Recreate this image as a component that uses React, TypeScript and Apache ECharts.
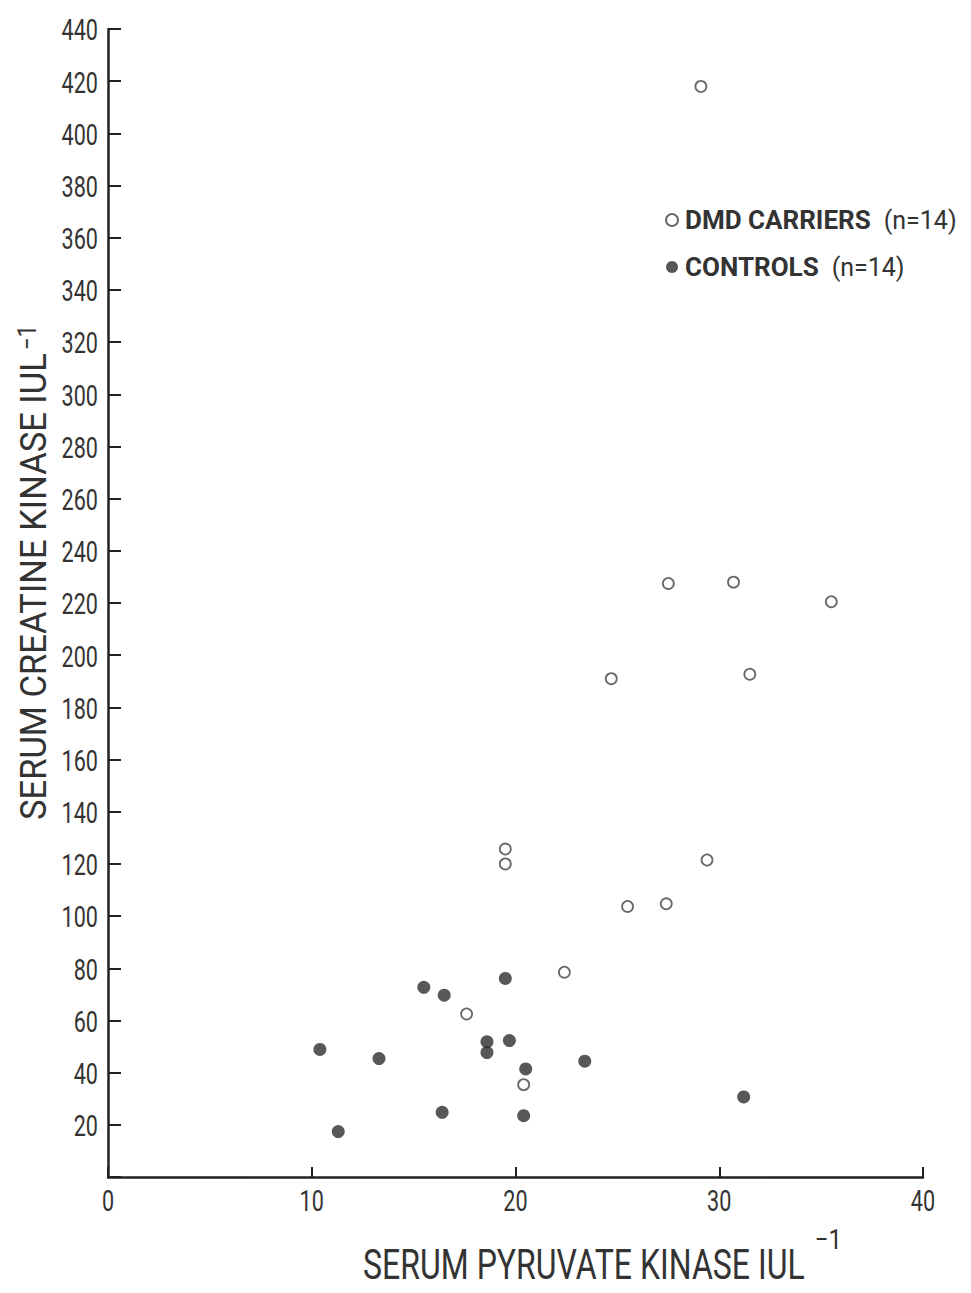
import React, { useEffect, useRef } from "react";
import * as echarts from "echarts";

const carriersX = [29.1, 27.5, 30.7, 35.5, 24.7, 31.5, 19.5, 19.5, 29.4, 25.5, 27.4, 22.4, 17.6, 20.4];
const carriersY = [418, 227.5, 228, 220.5, 191, 192.7, 125.7, 120, 121.5, 103.7, 104.7, 78.5, 62.5, 35.4];
const controlsX = [10.4, 11.3, 13.3, 15.5, 16.5, 16.4, 18.6, 18.6, 19.5, 19.7, 20.5, 20.4, 23.4, 31.2];
const controlsY = [48.9, 17.4, 45.4, 72.7, 69.7, 24.8, 51.8, 47.7, 76.1, 52.3, 41.4, 23.5, 44.4, 30.7];
const seriesNames = ["DMD CARRIERS", "CONTROLS"];
const seriesCounts = [14, 14];
const xTicks = [0, 10, 20, 30, 40];
const yTicks = [20, 40, 60, 80, 100, 120, 140, 160, 180, 200, 220, 240, 260, 280, 300, 320, 340, 360, 380, 400, 420, 440];
const xTitle = "SERUM PYRUVATE KINASE IUL";
const yTitle = "SERUM CREATINE KINASE IUL";
const unitExp = "−1";

const FONT = "Roboto, 'Liberation Sans', sans-serif";
const INK = "#333";

function measure(text: string, size: number, weight = "normal") {
  const c = document.createElement("canvas").getContext("2d");
  if (!c) return text.length * size * 0.55;
  c.font = `${weight} ${size}px Roboto`;
  return c.measureText(text).width;
}

export default function App() {
  const ref = useRef<HTMLDivElement>(null);
  useEffect(() => {
    if (!ref.current) return;
    const chart = echarts.init(ref.current, undefined, { renderer: "svg" });
    const carriers = carriersX.map((x, i) => [x, carriersY[i]]);
    const controls = controlsX.map((x, i) => [x, controlsY[i]]);

    const xTitleSize = 42;
    const xTitleScale = 442 / measure(xTitle, xTitleSize);
    const yTitleSize = 36;
    const yTitleScale = 467 / measure(yTitle, yTitleSize);

    const titleGraphics: any[] = [
      {
        id: "xtitle",
        type: "text",
        x: 363,
        y: 1264,
        scaleX: xTitleScale,
        style: { text: xTitle, fontFamily: FONT, fontSize: xTitleSize, fill: INK, align: "left", verticalAlign: "middle" },
      },
      {
        id: "xexp",
        type: "text",
        x: 815,
        y: 1239,
        scaleX: 0.85,
        style: { text: unitExp, fontFamily: FONT, fontSize: 28, fill: INK, align: "left", verticalAlign: "middle" },
      },
      {
        id: "ytitle",
        type: "text",
        x: 34,
        y: 820,
        rotation: Math.PI / 2,
        scaleX: yTitleScale,
        style: { text: yTitle, fontFamily: FONT, fontSize: yTitleSize, fill: INK, align: "left", verticalAlign: "middle" },
      },
      {
        id: "yexp",
        type: "text",
        x: 27,
        y: 350,
        rotation: Math.PI / 2,
        scaleX: 0.85,
        style: { text: unitExp, fontFamily: FONT, fontSize: 26, fill: INK, align: "left", verticalAlign: "middle" },
      },
    ];

    chart.setOption({
      animation: false,
      backgroundColor: "#ffffff",
      grid: { left: 108, right: 48, top: 29, bottom: 116, containLabel: false, outerBoundsMode: "none" },
      xAxis: {
        type: "value",
        min: xTicks[0],
        max: xTicks[xTicks.length - 1],
        interval: 10,
        splitLine: { show: false },
        axisLine: { lineStyle: { color: "#222", width: 2.5 } },
        axisTick: { inside: true, length: 10, lineStyle: { color: "#222", width: 2 } },
        axisLabel: { show: false },
      },
      yAxis: {
        type: "value",
        min: 0,
        max: yTicks[yTicks.length - 1],
        interval: 20,
        splitLine: { show: false },
        axisLine: { show: true, lineStyle: { color: "#222", width: 2.5 } },
        axisTick: { show: true, inside: true, length: 13, lineStyle: { color: "#222", width: 2 } },
        axisLabel: { show: false },
      },
      legend: {
        orient: "vertical",
        left: 665,
        top: 207,
        padding: 0,
        itemGap: 21,
        itemWidth: 12,
        itemHeight: 12,
        icon: "circle",
        data: seriesNames,
        formatter: (name: string) => {
          const i = seriesNames.indexOf(name);
          return `{b|${name}}{n|(n=${seriesCounts[i]})}`;
        },
        textStyle: {
          rich: {
            b: { fontFamily: FONT, fontWeight: "bold", fontSize: 26, lineHeight: 29, color: INK, padding: [0, 13, 0, 2] },
            n: { fontFamily: FONT, fontSize: 25, lineHeight: 29, color: INK },
          },
        },
      },
      graphic: titleGraphics,
      series: [
        {
          name: seriesNames[0],
          type: "scatter",
          data: carriers,
          symbol: "circle",
          symbolSize: 11,
          itemStyle: { color: "#ffffff", borderColor: "#444", borderWidth: 1.8 },
        },
        {
          name: seriesNames[1],
          type: "scatter",
          data: controls,
          symbol: "circle",
          symbolSize: 13,
          itemStyle: { color: "#2e2e2e", borderColor: "#2e2e2e", borderWidth: 0 },
        },
      ],
    });

    // tick labels placed through the axes' own scales, drawn condensed
    const tickSize = 30;
    const tickScale = 0.72;
    const tickGraphics: any[] = [];
    yTicks.forEach((v) => {
      const p = chart.convertToPixel({ gridIndex: 0 }, [0, v]) as number[];
      tickGraphics.push({
        id: "ytick" + v,
        type: "text",
        x: p[0] - 10,
        y: p[1] + 1,
        scaleX: tickScale,
        style: { text: String(v), fontFamily: FONT, fontSize: tickSize, fill: INK, align: "right", verticalAlign: "middle" },
      });
    });
    xTicks.forEach((v) => {
      const p = chart.convertToPixel({ gridIndex: 0 }, [v, 0]) as number[];
      tickGraphics.push({
        id: "xtick" + v,
        type: "text",
        x: p[0],
        y: p[1] + 24,
        scaleX: tickScale,
        style: { text: String(v), fontFamily: FONT, fontSize: tickSize, fill: INK, align: "center", verticalAlign: "middle" },
      });
    });
    chart.setOption({ graphic: [...titleGraphics, ...tickGraphics] });

    return () => chart.dispose();
  }, []);
  return (
    <div
      ref={ref}
      style={{ position: "absolute", left: 0, top: 0, width: 971, height: 1293, background: "#fff" }}
    />
  );
}
